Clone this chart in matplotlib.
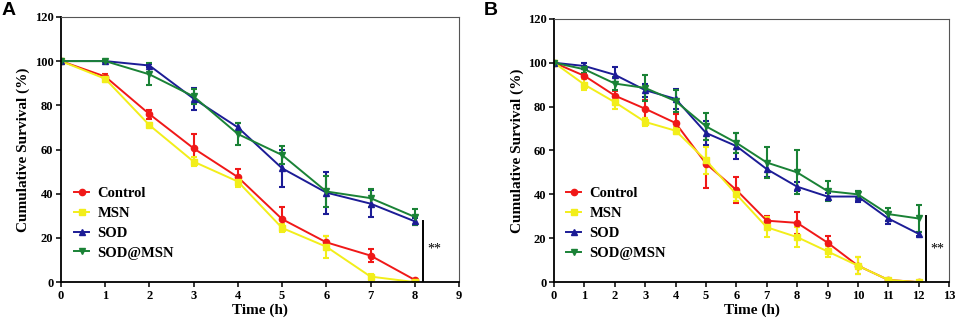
import matplotlib.pyplot as plt

# panel A, 0-8 h
time_a = [0, 1, 2, 3, 4, 5, 6, 7, 8]
control_a = [100, 93, 76, 60.5, 47.5, 28.5, 18, 12, 1]
control_a_err = [0, 1, 2, 6.5, 3.5, 5.5, 3, 3, 0.5]
msn_a = [100, 92, 71, 54.5, 45.5, 24.5, 16, 2.5, 0]
msn_a_err = [0, 1.5, 1, 2, 2.5, 2, 5, 1, 0.5]
sod_a = [100, 100, 98, 83, 70, 51.5, 40.5, 35.5, 27.5]
sod_a_err = [0, 0.5, 0.5, 5, 2, 8.5, 9.5, 6, 1.5]
sodmsn_a = [100, 100, 94, 84, 67, 57.5, 41, 38, 29.5]
sodmsn_a_err = [0, 0.5, 5, 3.5, 5, 4, 7, 4, 3.5]

# panel B, 0-12 h
time_b = [0, 1, 2, 3, 4, 5, 6, 7, 8, 9, 10, 11, 12]
control_b = [100, 94, 85, 79, 72.5, 54, 42, 28, 27, 18, 7.5, 1, 0]
control_b_err = [0, 1.5, 2, 4, 4, 11, 6, 2, 5, 3, 4, 0.5, 0.5]
msn_b = [100, 90, 82, 73, 69, 55.5, 40, 25, 20.5, 14, 7.5, 1, 0]
msn_b_err = [0, 2.5, 3, 2, 1.5, 6, 3, 4.5, 4.5, 2.5, 4, 0.5, 0.5]
sod_b = [100, 98.5, 94.5, 87.5, 83.5, 68, 62, 51.5, 43.5, 39, 39, 29, 22]
sod_b_err = [0, 1.5, 3.5, 3, 4.5, 5.5, 6, 3.5, 2, 1.5, 2.5, 2.5, 1]
sodmsn_b = [100, 97, 90.5, 88.5, 82.5, 71, 63.5, 54.5, 50, 41.5, 40, 31, 29]
sodmsn_b_err = [0, 1.5, 3, 6, 5, 6, 4.5, 7, 10, 4.5, 1.5, 3, 6]

labels = ["Control", "MSN", "SOD", "SOD@MSN"]
colors = ["#f01818", "#f2ee1a", "#1c1c96", "#1a8236"]
markers = ["o", "s", "^", "v"]

serif = "Liberation Serif"


def draw_panel(ax, t, series, errors, xmax, sig_x, sig_top, leg_x):
    handles = []
    for y, e, c, m in zip(series, errors, colors, markers):
        cont = ax.errorbar(t, y, yerr=e, color=c, marker=m, markersize=4.5,
                           linewidth=1.4, elinewidth=1.5, capsize=2.5,
                           capthick=1.5)
        handles.append(cont[0])
    ax.set_xlim(0, xmax)
    ax.set_ylim(0, 120)
    ax.set_xticks(range(0, xmax + 1))
    ax.set_yticks(range(0, 121, 20))
    for lbl in ax.get_xticklabels() + ax.get_yticklabels():
        lbl.set_fontfamily(serif)
        lbl.set_fontweight("bold")
        lbl.set_fontsize(9)
    ax.tick_params(direction="out", length=3.5, width=1.1, pad=2)
    ax.set_xlabel("Time (h)", fontfamily=serif, fontweight="bold",
                  fontsize=11, labelpad=1)
    ax.set_ylabel("Cumulative Survival (%)", fontfamily=serif,
                  fontweight="bold", fontsize=11, labelpad=3)
    for side in ["left", "bottom"]:
        ax.spines[side].set_linewidth(1.3)
    for side in ["top", "right"]:
        ax.spines[side].set_linewidth(0.8)
        ax.spines[side].set_color("#555555")
    # significance bar
    ax.plot([sig_x, sig_x], [0.5, sig_top], color="black", linewidth=1.4)
    ax.text(sig_x + 0.1 * xmax / 9, 15, "**", fontfamily=serif,
            fontsize=10, va="center", ha="left")
    ax.legend(handles, labels, loc="lower left",
              bbox_to_anchor=(leg_x, 0.085), frameon=False,
              borderpad=0, borderaxespad=0, handlelength=1.05,
              handletextpad=0.55, labelspacing=0.45,
              prop={"family": serif, "weight": "bold", "size": 10.5})


fig = plt.figure(figsize=(9.62, 3.25), dpi=100)
ax_a = fig.add_axes([0.0634, 0.132, 0.4137, 0.816])
ax_b = fig.add_axes([0.576, 0.132, 0.4105, 0.810])

draw_panel(ax_a, time_a, [control_a, msn_a, sod_a, sodmsn_a],
           [control_a_err, msn_a_err, sod_a_err, sodmsn_a_err], 9, 8.18, 27.5,
           0.033)
draw_panel(ax_b, time_b, [control_b, msn_b, sod_b, sodmsn_b],
           [control_b_err, msn_b_err, sod_b_err, sodmsn_b_err], 13, 12.24, 30,
           0.030)

fig.text(0.002, 0.995, "A", fontsize=14, fontweight="bold",
         fontfamily="Liberation Sans", va="top", ha="left")
fig.text(0.503, 0.995, "B", fontsize=14, fontweight="bold",
         fontfamily="Liberation Sans", va="top", ha="left")

plt.savefig("out.png", dpi=100)
